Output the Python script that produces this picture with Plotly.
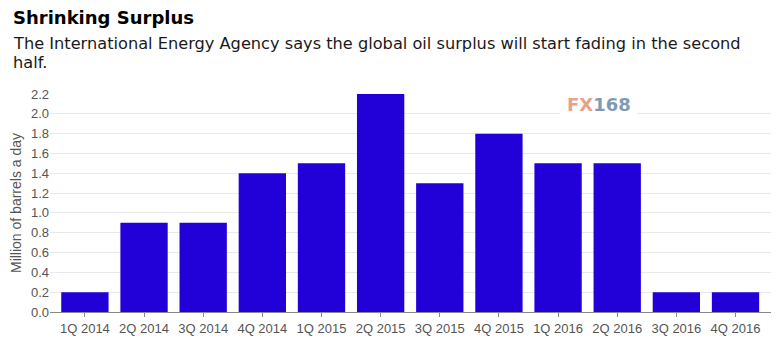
import plotly.graph_objects as go

categories = ["1Q 2014", "2Q 2014", "3Q 2014", "4Q 2014", "1Q 2015", "2Q 2015",
              "3Q 2015", "4Q 2015", "1Q 2016", "2Q 2016", "3Q 2016", "4Q 2016"]
values = [0.2, 0.9, 0.9, 1.4, 1.5, 2.2, 1.3, 1.8, 1.5, 1.5, 0.2, 0.2]
y_ticks = [0.0, 0.2, 0.4, 0.6, 0.8, 1.0, 1.2, 1.4, 1.6, 1.8, 2.0, 2.2]

fig = go.Figure(go.Bar(x=list(range(len(categories))), y=values,
                       marker=dict(color="#2200d8", line=dict(width=0)),
                       width=0.8))

fig.update_layout(
    width=781, height=338,
    margin=dict(l=50, r=10, t=94, b=26),
    paper_bgcolor="white", plot_bgcolor="white",
    font=dict(family="Liberation Sans, Arial, sans-serif", color="#555555", size=13),
    showlegend=False,
    xaxis=dict(range=[-0.59, 11.6], tickmode="array", automargin=False,
               tickvals=list(range(len(categories))), ticktext=categories,
               showgrid=False, showline=True, linecolor="#888888", linewidth=1,
               ticks="outside", ticklen=4, tickcolor="#888888",
               tickfont=dict(size=13, color="#555555"), zeroline=False),
    yaxis=dict(range=[0, 2.2], tickmode="array", tickvals=y_ticks, automargin=False,
               ticktext=[f"{v:.1f}" for v in y_ticks],
               showgrid=True, gridcolor="#e9e9e9", gridwidth=1,
               zeroline=False, showline=False, ticks="",
               tickfont=dict(size=13, color="#555555"),
               title=dict(text="Million of barrels a day", font=dict(size=14, color="#555555"),
                          standoff=6)),
    bargap=0.2,
)

fig.add_annotation(text="<b>Shrinking Surplus</b>", xref="paper", yref="paper",
                   x=0, y=1, xanchor="left", yanchor="middle",
                   xshift=-39, yshift=77,
                   font=dict(size=18, color="black", family="DejaVu Sans, sans-serif"),
                   showarrow=False)
fig.add_annotation(text="The International Energy Agency says the global oil surplus will start fading in the second",
                   xref="paper", yref="paper", x=0, y=1, xanchor="left", yanchor="middle",
                   xshift=-39, yshift=51, align="left",
                   font=dict(size=16.2, color="#1a1a1a", family="DejaVu Sans, sans-serif"),
                   showarrow=False)
fig.add_annotation(text="half.",
                   xref="paper", yref="paper", x=0, y=1, xanchor="left", yanchor="middle",
                   xshift=-39, yshift=32, align="left",
                   font=dict(size=16.2, color="#1a1a1a", family="DejaVu Sans, sans-serif"),
                   showarrow=False)
fig.add_annotation(text="<b><span style='color:#e8a286'>FX</span><span style='color:#7f9bb4'>168</span></b>",
                   xref="x", yref="y", x=8.70, y=2.09, xanchor="center", yanchor="middle",
                   bgcolor="white", borderpad=6,
                   font=dict(size=18, family="DejaVu Sans, sans-serif"),
                   showarrow=False)

fig.write_html("out.html")
